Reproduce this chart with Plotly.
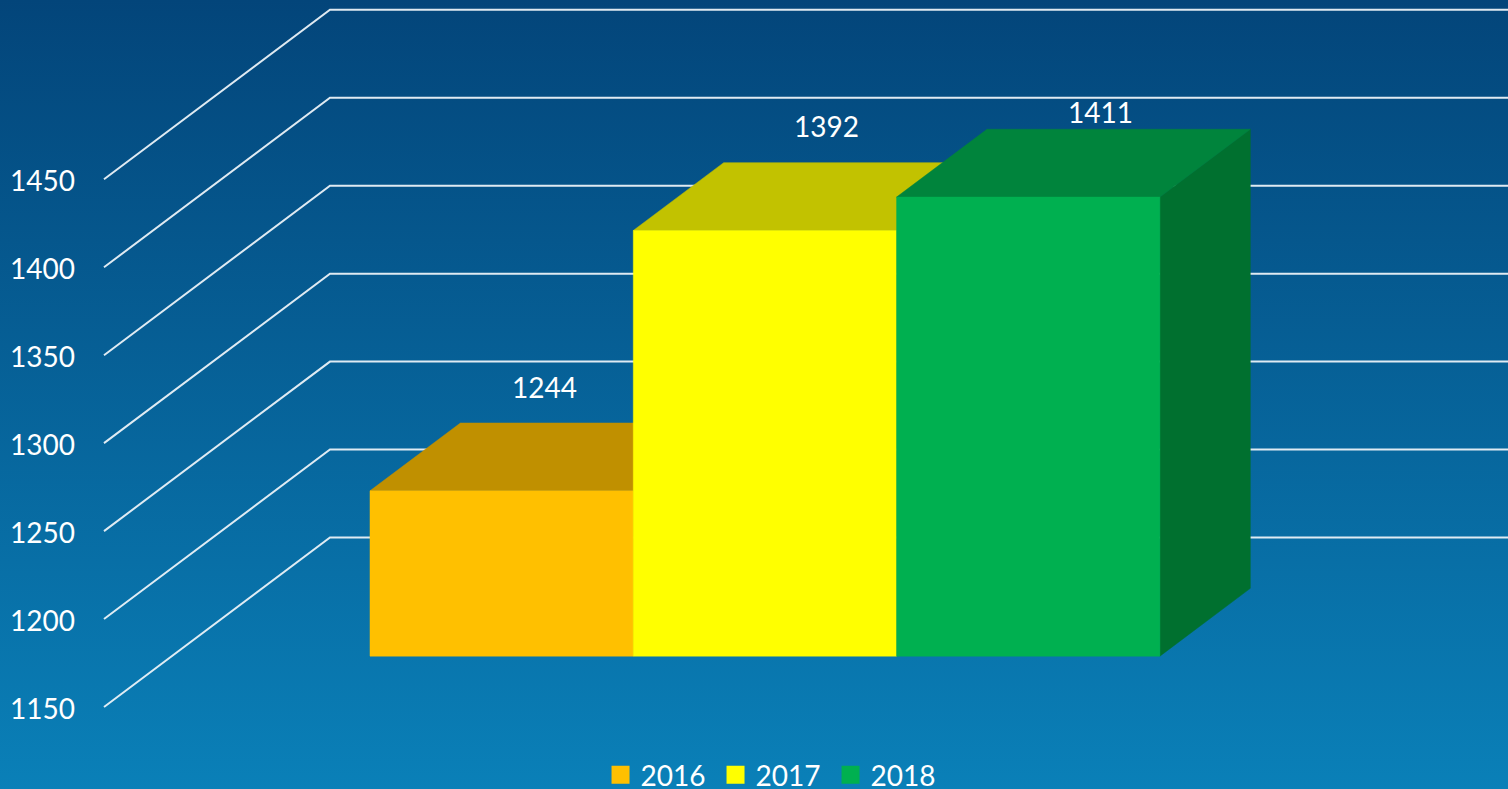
import plotly.graph_objects as go

# --- data ---
years = ["2016", "2017", "2018"]
values = [1244, 1392, 1411]
tick_values = [1150, 1200, 1250, 1300, 1350, 1400, 1450]

# --- style ---
front_colors = ["#FFC000", "#FFFF00", "#00B050"]
top_colors = ["#C09000", "#C2C200", "#00843C"]
side_colors = ["#A07800", "#A0A000", "#00702F"]
label_shift_px = [(43, 104), (62, 104), (72, 85)]
FONT = "Lato, Carlito, Calibri, sans-serif"
FS = 28

# --- projection of the 3-D wall and bars onto the 2-D axes ---
W, H = 1508, 810          # page shows the top 789 px; the extra keeps the legend box unclipped
LEFT = 100
BOTTOM = 81
PX_PER_CAT = 263.3
PX_PER_VAL = 1.759
Y_BASE_PX = 707
DEPTH_X_PX, DEPTH_Y_PX = 226, 169.5
BAR_D0, BAR_D1 = 0.30, 0.70
X0_PX = 370 - DEPTH_X_PX * BAR_D0
DEPTH_X = DEPTH_X_PX / PX_PER_CAT
DEPTH_Y = DEPTH_Y_PX / PX_PER_VAL
WALL_LEFT = (104 - X0_PX) / PX_PER_CAT
X_RIGHT = (W - X0_PX) / PX_PER_CAT
BASE = tick_values[0]


def proj(x, v, d):
    return x + DEPTH_X * d, v + DEPTH_Y * d


fig = go.Figure()

# gridlines: floor/wall edge then back wall
gx, gy = [], []
for t in tick_values:
    x1, y1 = proj(WALL_LEFT, t, 0)
    x2, y2 = proj(WALL_LEFT, t, 1)
    gx += [x1, x2, X_RIGHT, None]
    gy += [y1, y2, y2, None]
fig.add_trace(go.Scatter(x=gx, y=gy, mode="lines", line=dict(color="rgba(235,242,248,0.95)", width=2),
                         showlegend=False, hoverinfo="skip"))


def poly(pts, color):
    xs = [p[0] for p in pts] + [pts[0][0]]
    ys = [p[1] for p in pts] + [pts[0][1]]
    fig.add_trace(go.Scatter(x=xs, y=ys, mode="lines", fill="toself", fillcolor=color,
                             line=dict(color=color, width=0.5), showlegend=False, hoverinfo="skip"))


for i, v in enumerate(values):
    l, r = i, i + 1
    a = proj(l, BASE, BAR_D0); b = proj(r, BASE, BAR_D0)
    c = proj(r, v, BAR_D0); e = proj(l, v, BAR_D0)
    f = proj(l, v, BAR_D1); g = proj(r, v, BAR_D1)
    h = proj(r, BASE, BAR_D1)
    poly([b, h, g, c], side_colors[i])
    poly([e, c, g, f], top_colors[i])
    poly([a, b, c, e], front_colors[i])

# legend entries
for y, col in zip(years, front_colors):
    fig.add_trace(go.Scatter(x=[None], y=[None], mode="markers", name=y,
                             marker=dict(symbol="square", size=16, color=col, line=dict(color=col, width=2))))

# value labels
for i, v in enumerate(values):
    x, y = proj(i + 0.5, v, BAR_D0)
    fig.add_annotation(x=x, y=y, text=str(v), showarrow=False,
                       xshift=label_shift_px[i][0], yshift=label_shift_px[i][1],
                       font=dict(family=FONT, size=FS, color="white"))

plot_h = H - BOTTOM
y_low = BASE - (plot_h - Y_BASE_PX) / PX_PER_VAL
y_high = BASE + Y_BASE_PX / PX_PER_VAL
x_low = (LEFT - X0_PX) / PX_PER_CAT

fig.update_layout(
    width=W, height=H, margin=dict(l=LEFT, r=0, t=0, b=BOTTOM, autoexpand=False),
    paper_bgcolor="rgba(0,0,0,0)", plot_bgcolor="rgba(0,0,0,0)",
    font=dict(family=FONT, size=FS, color="white"),
    xaxis=dict(visible=False, range=[x_low, X_RIGHT], fixedrange=True),
    yaxis=dict(range=[y_low, y_high], tickvals=tick_values, showgrid=False, zeroline=False,
               showline=False, ticks="", ticklabelstandoff=24, ticklabelshift=2, fixedrange=True,
               tickfont=dict(family=FONT, size=FS, color="white")),
    legend=dict(orientation="h", x=0.478, xanchor="center", y=(plot_h - 775) / plot_h, yanchor="middle",
                bgcolor="rgba(0,0,0,0)", font=dict(family=FONT, size=FS, color="white"),
                itemwidth=30, entrywidth=70, entrywidthmode="pixels", tracegroupgap=0, traceorder="normal"),
)

css = ("document.body.style.margin='0';"
       "document.documentElement.style.background='linear-gradient(180deg,#03457A 0%,#0A80B8 100%)';"
       "document.documentElement.style.height='100%';document.documentElement.style.overflow='hidden';"
       "document.body.style.overflow='hidden';document.body.style.background='none';")
fig.write_html("out.html", post_script=css, config={"displayModeBar": False})
